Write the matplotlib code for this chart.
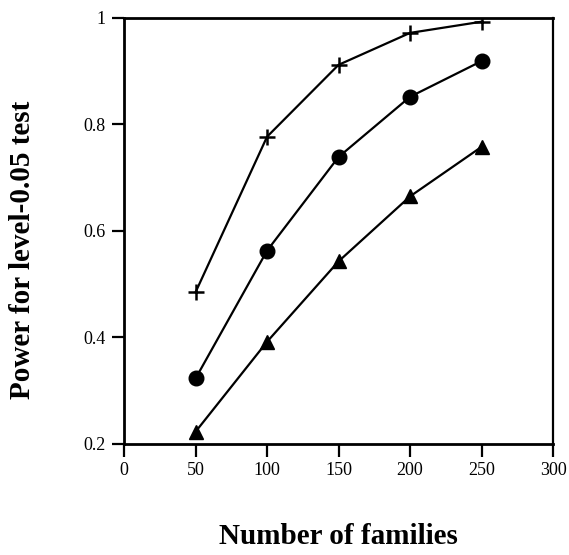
import matplotlib
matplotlib.use("Agg")
import matplotlib.pyplot as plt

families = [50, 100, 150, 200, 250]
power_plus = [0.485, 0.777, 0.912, 0.972, 0.993]
power_circle = [0.323, 0.563, 0.739, 0.852, 0.919]
power_triangle = [0.223, 0.392, 0.543, 0.665, 0.758]

x_ticks = [0, 50, 100, 150, 200, 250, 300]
y_ticks = [0.2, 0.4, 0.6, 0.8, 1.0]
y_tick_labels = ["0.2", "0.4", "0.6", "0.8", "1"]

plt.rcParams["font.family"] = ["Liberation Serif", "DejaVu Serif"]

fig = plt.figure(figsize=(5.69, 5.55), dpi=100)
ax = fig.add_axes([0.218, 0.2, 0.754, 0.7676])

ax.plot(families, power_plus, color="black", lw=1.6, marker="+", ms=11, mew=1.8)
ax.plot(families, power_circle, color="black", lw=1.6, marker="o", ms=10.5)
ax.plot(families, power_triangle, color="black", lw=1.6, marker="^", ms=10.5)

ax.set_xlim(0, 300)
ax.set_ylim(0.2, 1.0)
ax.set_xticks(x_ticks)
ax.set_xticklabels([str(t) for t in x_ticks])
ax.set_yticks(y_ticks)
ax.set_yticklabels(y_tick_labels)

for side in ["left", "bottom", "top"]:
    ax.spines[side].set_linewidth(2.0)
ax.spines["right"].set_linewidth(1.6)

ax.tick_params(direction="out", length=9, width=1.6, labelsize=13, pad=4)

ax.set_xlabel("Number of families", fontsize=21, fontweight="bold", labelpad=32)
ax.set_ylabel("Power for level-0.05 test", fontsize=21, fontweight="bold")
ax.yaxis.set_label_coords(-0.205, 0.455)

fig.savefig("out.png", dpi=100)
